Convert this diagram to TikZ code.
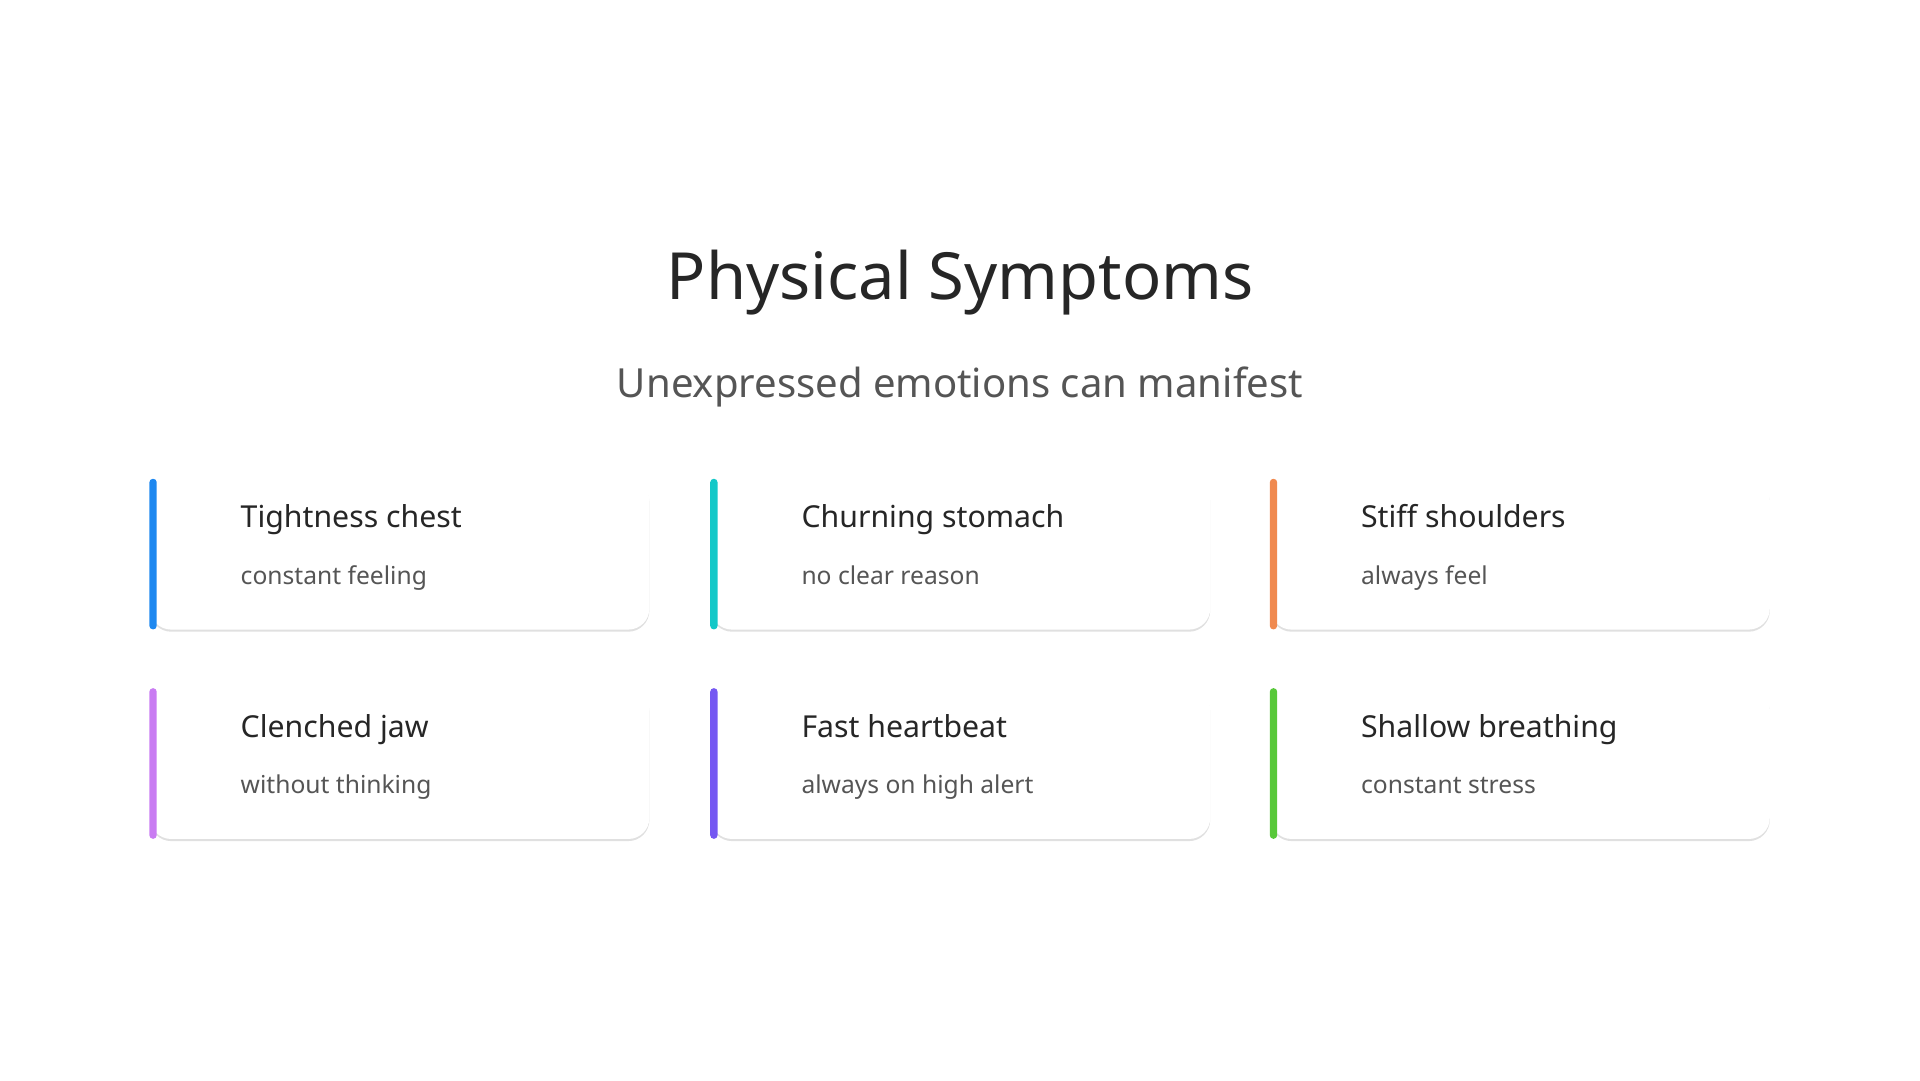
\documentclass[tikz,border=0pt]{standalone}
\usepackage{fontspec}
\setmainfont{Noto Sans}
\usetikzlibrary{positioning}
\usetikzlibrary{shadows}
\definecolor{ink}{HTML}{262626}
\definecolor{greyink}{HTML}{555555}
\definecolor{cblue}{HTML}{1E88F0}
\definecolor{cteal}{HTML}{14C8C8}
\definecolor{corange}{HTML}{F08A50}
\definecolor{cpink}{HTML}{C97CF2}
\definecolor{cviolet}{HTML}{7558F2}
\definecolor{cgreen}{HTML}{58C83A}
\tikzset{
  card/.style={draw=none, fill=white, rounded corners=6pt, minimum width=4.99cm, minimum height=1.5cm,
    drop shadow={shadow xshift=0pt, shadow yshift=-0.6pt, opacity=0.12, fill=black}},
  cardtitle/.style={anchor=base west, inner sep=0pt, text=ink, font={\fontsize{8.6pt}{10}\selectfont\bfseries}},
  cardtext/.style={anchor=base west, inner sep=0pt, text=greyink, font={\fontsize{7pt}{9}\selectfont}}
}
\begin{document}
\begin{tikzpicture}[x=0.012245cm, y=-0.012245cm]
    \useasboundingbox (0, 0) rectangle (1568, 882);
    % Title
    \node (title) at (784, 231) [text=ink, font={\fontsize{18.5pt}{20}\selectfont}] {Physical Symptoms};
    % Subtitle
    \node (subtitle) at (784, 316) [text=greyink, font={\fontsize{11.4pt}{13}\selectfont}] {Unexpressed emotions can manifest};

    % Cards
    \foreach \cx/\cy/\col/\name/\head/\body in {
        122/391/cblue/chest/Tightness chest/constant feeling,
        580/391/cteal/stomach/Churning stomach/no clear reason,
        1037/391/corange/shoulders/Stiff shoulders/always feel,
        122/562/cpink/jaw/Clenched jaw/without thinking,
        580/562/cviolet/heart/Fast heartbeat/always on high alert,
        1037/562/cgreen/breath/Shallow breathing/constant stress} {
      \node (\name) [card, anchor=north west] at (\cx, \cy) {};
      \fill [\col, rounded corners=1pt] (\cx, \cy) rectangle ++(6, 123);
      \node (\name-head) [cardtitle] at (\cx+74, \cy+40) {\head};
      \node (\name-body) [cardtext] at (\cx+74, \cy+86) {\body};
    }
\end{tikzpicture}
\end{document}
